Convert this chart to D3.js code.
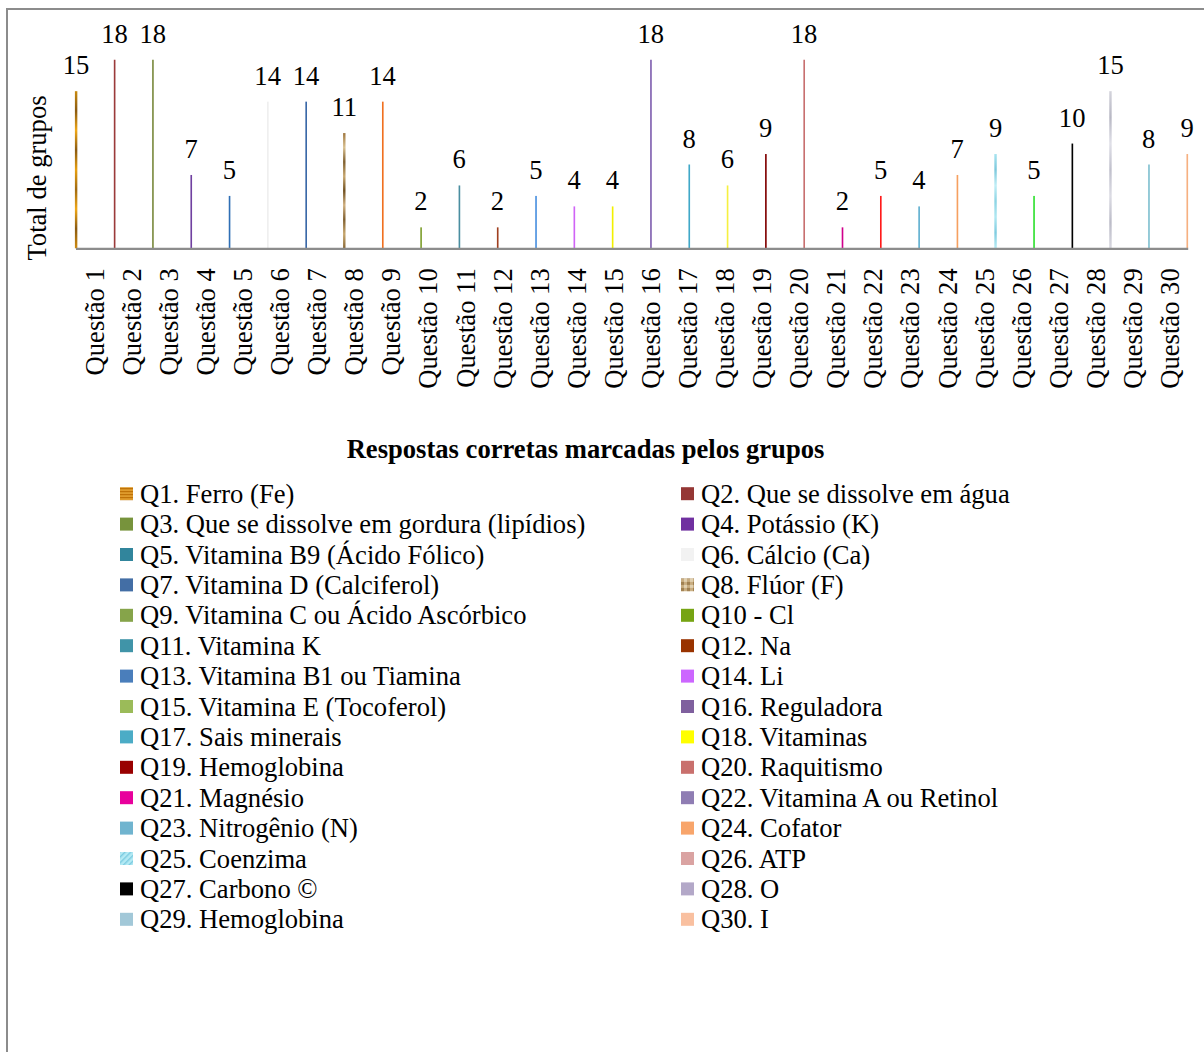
<!DOCTYPE html>
<html>
<head>
<meta charset="utf-8">
<script src="https://cdn.jsdelivr.net/npm/d3@7"></script>
<style>
  html, body { margin: 0; padding: 0; background: #fff; }
  svg { display: block; }
  text { font-family: "Liberation Serif", "Times New Roman", serif; fill: #000; }
</style>
</head>
<body>
<svg id="chart" width="1204" height="1052"></svg>
<script>
// Questions (one series per question, plotted in its own category slot)
const categories = ["Questão 1","Questão 2","Questão 3","Questão 4","Questão 5","Questão 6","Questão 7","Questão 8","Questão 9","Questão 10",
  "Questão 11","Questão 12","Questão 13","Questão 14","Questão 15","Questão 16","Questão 17","Questão 18","Questão 19","Questão 20",
  "Questão 21","Questão 22","Questão 23","Questão 24","Questão 25","Questão 26","Questão 27","Questão 28","Questão 29","Questão 30"];

// Number of groups that marked the correct answer
const values = [15, 18, 18, 7, 5, 14, 14, 11, 14, 2, 6, 2, 5, 4, 4, 18, 8, 6, 9, 18, 2, 5, 4, 7, 9, 5, 10, 15, 8, 9];

// Series names shown in the legend
const seriesNames = [
  "Q1. Ferro (Fe)", "Q2. Que se dissolve em água",
  "Q3. Que se dissolve em gordura (lipídios)", "Q4. Potássio (K)",
  "Q5. Vitamina B9 (Ácido Fólico)", "Q6. Cálcio (Ca)",
  "Q7. Vitamina D (Calciferol)", "Q8. Flúor (F)",
  "Q9. Vitamina C ou Ácido Ascórbico", "Q10 - Cl",
  "Q11. Vitamina K", "Q12. Na",
  "Q13. Vitamina B1 ou Tiamina", "Q14. Li",
  "Q15. Vitamina E (Tocoferol)", "Q16. Reguladora",
  "Q17. Sais minerais", "Q18. Vitaminas",
  "Q19. Hemoglobina", "Q20. Raquitismo",
  "Q21. Magnésio", "Q22. Vitamina A ou Retinol",
  "Q23. Nitrogênio (N)", "Q24. Cofator",
  "Q25. Coenzima", "Q26. ATP",
  "Q27. Carbono ©", "Q28. O",
  "Q29. Hemoglobina", "Q30. I"
];

const yTitle = "Total de grupos";
const chartTitle = "Respostas corretas marcadas pelos grupos";

// Fill used for each bar
const barColors = ["url(#barQ1)", "#9b3b3b", "#7b8b40", "#7040a0", "#2f6fb5", "#efefef", "#3a68a8", "url(#barQ8)", "#f07020", "#7fa030",
  "#4a8ea0", "#a04020", "#4a90e0", "#d064f6", "#f2f000", "#8060b0", "#40a8c8", "#f6f040", "#800000", "#c87070",
  "#d0008c", "#ff1a1a", "#60b0d0", "#f6a060", "url(#barQ25)", "#30e030", "#000000", "url(#barQ28)", "#80c0d0", "#f6b080"];
const wideBars = new Set([0, 7, 24, 27]);

// Swatch fill for each legend entry
const legendColors = ["url(#swQ1)", "#953735", "#77933c", "#7030a0", "#31859c", "#f2f2f2", "#436ea5", "url(#swQ8)", "#86a44a", "#76a413",
  "#4094a8", "#993300", "#4a7ebb", "#cc66ff", "#9bbb59", "#7f609e", "#4bacc6", "#ffff00", "#990000", "#c9706d",
  "#e8009c", "#8f7db3", "#70b4cf", "#f8a56b", "url(#swQ25)", "#daa3a2", "#000000", "#b3a8c8", "#a2c8d8", "#f9c0a0"];

const FONT = 26.6;

const svg = d3.select("#chart");
const defs = svg.append("defs");

// Gradients for the textured bars
function vGrad(id, stops) {
  const g = defs.append("linearGradient").attr("id", id)
    .attr("x1", 0).attr("y1", 0).attr("x2", 0).attr("y2", 1);
  stops.forEach((c, i) => g.append("stop").attr("offset", i / (stops.length - 1)).attr("stop-color", c));
}
vGrad("barQ1", ["#c88a10", "#8a5a10", "#f0a818", "#8a5a10", "#e8a010", "#a06a10", "#f0a818", "#8a5a10", "#d08c10"]);
vGrad("barQ8", ["#a07840", "#d8c090", "#806030", "#c8a870", "#705020", "#d0b080", "#806030", "#c8a870", "#8a6a38"]);
vGrad("barQ25", ["#a8e4f0", "#7cc8dc", "#c0eef6", "#8cd4e4", "#b0e8f2", "#80cce0", "#b8ecf4"]);
vGrad("barQ28", ["#d4d4dc", "#b8b8c4", "#e0e0e8", "#c0c0cc", "#dcdce4", "#bcbcc8", "#d8d8e0"]);

// Patterns for the textured legend swatches
const pQ1 = defs.append("pattern").attr("id", "swQ1").attr("patternUnits", "userSpaceOnUse")
  .attr("width", 13).attr("height", 3);
pQ1.append("rect").attr("width", 13).attr("height", 3).attr("fill", "#f0b040");
pQ1.append("rect").attr("width", 13).attr("height", 1.6).attr("fill", "#b86a00");

const pQ8 = defs.append("pattern").attr("id", "swQ8").attr("patternUnits", "userSpaceOnUse")
  .attr("width", 6).attr("height", 6);
pQ8.append("rect").attr("width", 6).attr("height", 6).attr("fill", "#c8ac80");
pQ8.append("rect").attr("width", 3).attr("height", 3).attr("fill", "#a08050");
pQ8.append("rect").attr("x", 3).attr("y", 3).attr("width", 3).attr("height", 3).attr("fill", "#e0d0b0");

const pQ25 = defs.append("pattern").attr("id", "swQ25").attr("patternUnits", "userSpaceOnUse")
  .attr("width", 4).attr("height", 4).attr("patternTransform", "rotate(45)");
pQ25.append("rect").attr("width", 4).attr("height", 4).attr("fill", "#b4eaf4");
pQ25.append("rect").attr("width", 1.4).attr("height", 4).attr("fill", "#7ccbe0");

// Outer frame
svg.append("rect").attr("width", 1204).attr("height", 1052).attr("fill", "#fff");
svg.append("rect").attr("x", 7).attr("y", 9).attr("width", 1300).attr("height", 1200)
  .attr("fill", "none").attr("stroke", "#8c8c8c").attr("stroke-width", 2);

// Scales
const plot = { left: 75.5, right: 1187.7, top: 38.8, bottom: 248.3 };
const x = d3.scaleBand().domain(categories).range([plot.left, plot.right]).padding(0);
const xs = d3.scaleBand().domain(d3.range(categories.length)).range([0, x.bandwidth()]).padding(0);
const y = d3.scaleLinear().domain([0, 20]).range([plot.bottom, plot.top]);

const data = categories.map((c, i) => ({ c, i, v: values[i] }));

// Bars
svg.append("g").selectAll("rect").data(data).join("rect")
  .attr("x", d => x(d.c) + xs(d.i) + (wideBars.has(d.i) ? -0.6 : 0))
  .attr("width", d => xs.bandwidth() + (wideBars.has(d.i) ? 1.2 : 0.4))
  .attr("y", d => y(d.v))
  .attr("height", d => y(0) - y(d.v))
  .attr("fill", d => barColors[d.i]);

// Category axis
const xAxis = svg.append("g").attr("transform", `translate(0,${plot.bottom})`)
  .call(d3.axisBottom(x).tickSize(0).tickPadding(0));
xAxis.select(".domain").attr("stroke", "#8c8c8c").attr("stroke-width", 2.2);
xAxis.selectAll(".tick text")
  .attr("font-size", FONT).attr("font-family", "Liberation Serif, Times New Roman, serif")
  .attr("fill", "#000")
  .attr("text-anchor", "end")
  .attr("transform", "translate(1,20) rotate(-90)")
  .attr("x", 0).attr("y", 0).attr("dy", "0.33em");

// Data labels
svg.append("g").selectAll("text").data(data).join("text")
  .attr("x", d => x(d.c) + xs(d.i) + xs.bandwidth() / 2)
  .attr("y", d => y(d.v) - 17)
  .attr("text-anchor", "middle")
  .attr("font-size", FONT)
  .text(d => d.v);

// Y-axis title
svg.append("text")
  .attr("transform", `translate(46,178) rotate(-90)`)
  .attr("text-anchor", "middle")
  .attr("font-size", FONT)
  .text(yTitle);

// Chart title
svg.append("text")
  .attr("x", 585.5).attr("y", 458)
  .attr("text-anchor", "middle")
  .attr("font-size", FONT).attr("font-weight", "bold")
  .text(chartTitle);

// Legend: two columns, filled row by row
const legendCols = [120, 681];
const legendTop = 502.7, legendStep = 30.4;
const leg = svg.append("g").selectAll("g").data(seriesNames.map((n, i) => ({ n, i }))).join("g")
  .attr("transform", d => `translate(${legendCols[d.i % 2]},${legendTop + Math.floor(d.i / 2) * legendStep})`);
leg.append("rect").attr("x", 0).attr("y", -15.5).attr("width", 13).attr("height", 13)
  .attr("fill", d => legendColors[d.i]);
leg.append("text").attr("x", 20).attr("y", 0).attr("font-size", FONT).text(d => d.n);
</script>
</body>
</html>
